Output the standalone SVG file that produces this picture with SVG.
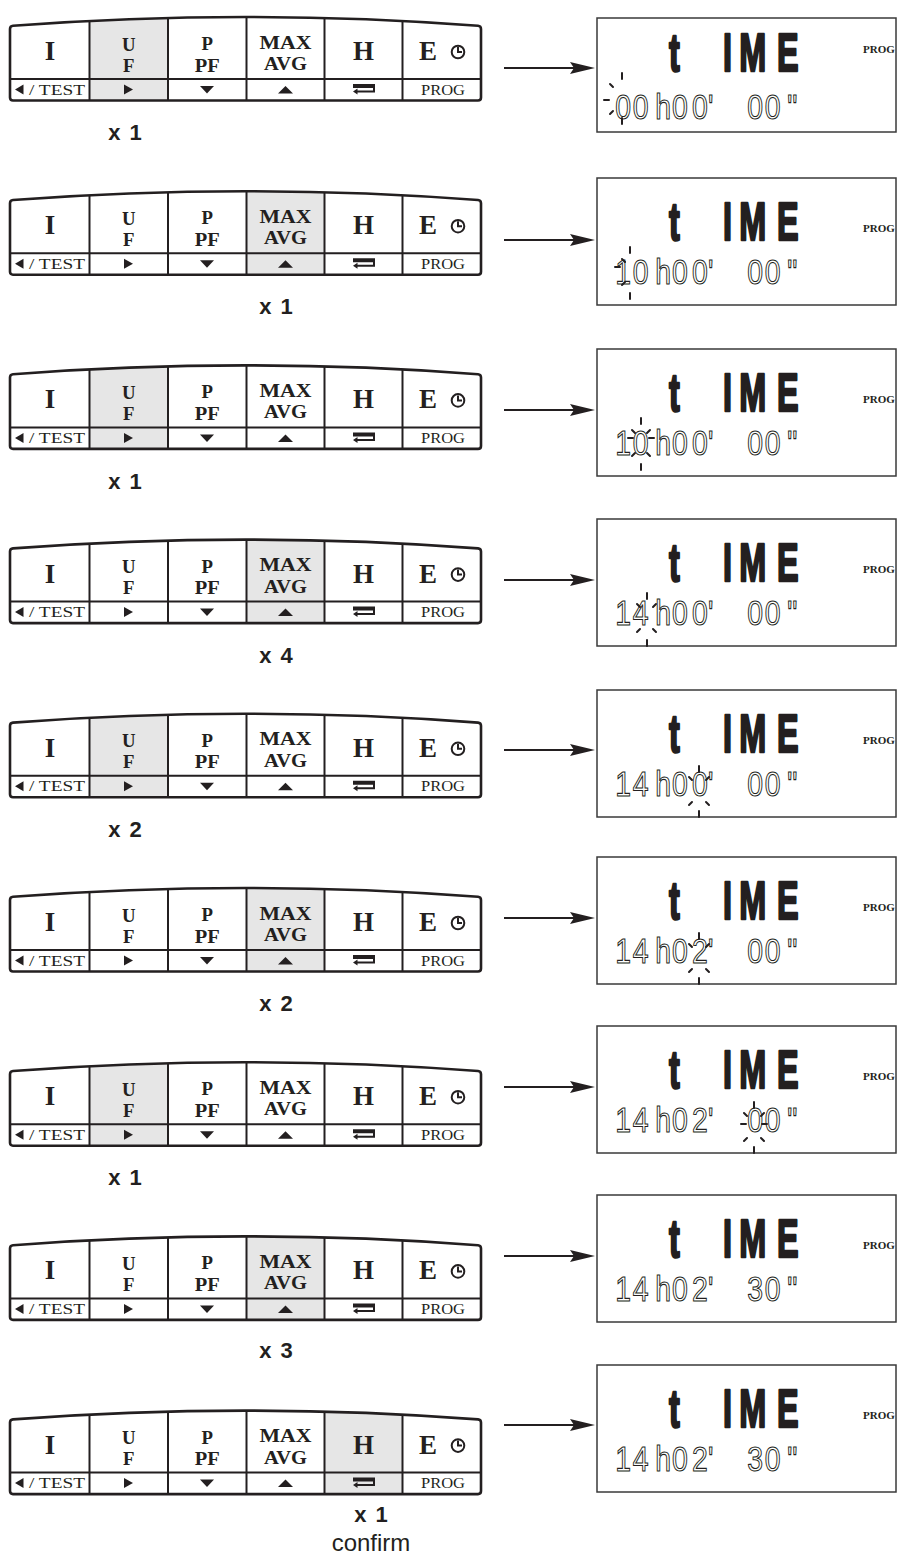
<svg xmlns="http://www.w3.org/2000/svg" xmlns:xlink="http://www.w3.org/1999/xlink" width="899" height="1557" viewBox="0 0 899 1557">
<style>
.bg{fill:#fff}
.kf{fill:#fff}
.ko{fill:none;stroke:#231f20;stroke-width:2.6}
.kd{fill:none;stroke:#231f20;stroke-width:2}
.sh{fill:#e6e6e6}
.kt{font-family:"Liberation Serif","Times New Roman",serif;font-weight:bold;fill:#231f20;text-anchor:middle}
.big{font-size:27px}
.mid{font-size:18.8px}
.sm{font-family:"Liberation Serif","Times New Roman",serif;font-size:14px;fill:#231f20}
.tri{fill:#231f20}
.clk{fill:none;stroke:#231f20;stroke-width:2}
.lbl{font-family:"Liberation Sans",Arial,sans-serif;font-weight:bold;font-size:22px;fill:#231f20;text-anchor:middle;word-spacing:3px}
.cf{font-family:"Liberation Sans",Arial,sans-serif;font-size:24px;fill:#231f20;text-anchor:middle}
.conn{stroke:#231f20;stroke-width:2;fill:none}
.lcd{fill:#fff;stroke:#3a3a3a;stroke-width:1.5}
.lb{font-family:"Liberation Sans",Arial,sans-serif;font-weight:bold;font-size:54px;fill:#231f20;stroke:#231f20;stroke-width:2.5;stroke-linejoin:round}
.ls{font-family:"Liberation Sans",Arial,sans-serif;font-size:35.5px;fill:#fff;stroke:#231f20;stroke-width:1.1}
.pg{font-family:"Liberation Serif","Times New Roman",serif;font-weight:bold;font-size:11px;fill:#231f20}
.bm{stroke:#231f20;stroke-width:2;stroke-linecap:round}
</style>
<defs>
<path id="kpo" d="M13,100.5 Q10,100.5 10,97.5 V29 Q10,26 13,25.8 Q245.5,8.2 478,25.8 Q481,26 481,29 V97.5 Q481,100.5 478,100.5 Z"/>
<clipPath id="kc"><use xlink:href="#kpo"/></clipPath>
<marker id="ah" viewBox="0 0 25 12" refX="4" refY="6" markerWidth="25" markerHeight="12" markerUnits="userSpaceOnUse" orient="auto"><path d="M0,0 L25,6 L0,12 L4,6 Z" fill="#231f20"/></marker>
<path id="dv" d="M89.5,0V101M168,0V101M246.5,0V101M324.5,0V101M402.5,0V101M10,79H481"/>
</defs>
<rect class="bg" x="0" y="0" width="899" height="1557"/>

<g id="keypad-1">
<use xlink:href="#kpo" class="kf"/>
<rect class="sh" x="89.5" y="0" width="78.5" height="101" clip-path="url(#kc)"/>
<use xlink:href="#dv" class="kd" clip-path="url(#kc)"/>
<use xlink:href="#kpo" class="ko"/>
<text class="kt big" x="50" y="60">I</text>
<text class="kt mid" x="128.75" y="50.5">U</text><text class="kt mid" x="128.75" y="71.5">F</text>
<text class="kt mid" x="207.25" y="50">P</text><text class="kt mid" x="207.25" y="71.5" textLength="25" lengthAdjust="spacingAndGlyphs">PF</text>
<text class="kt mid" x="285.5" y="48.5" textLength="52" lengthAdjust="spacingAndGlyphs">MAX</text><text class="kt mid" x="285.5" y="70" textLength="43" lengthAdjust="spacingAndGlyphs">AVG</text>
<text class="kt big" x="363.5" y="60">H</text>
<text class="kt big" x="428" y="60">E</text>
<circle class="clk" cx="458" cy="52" r="6.3"/><path class="clk" d="M458,47V52H462" stroke-width="1.6"/>
<polygon class="tri" points="15,89.5 23.5,84.5 23.5,94.5"/>
<text class="sm" x="29" y="94.5" textLength="56" lengthAdjust="spacingAndGlyphs">/ TEST</text>
<polygon class="tri" points="124,84.5 133,89.5 124,94.5"/>
<polygon class="tri" points="200,86 214,86 207,93.5"/>
<polygon class="tri" points="278,93.5 293,93.5 285.5,86"/>
<path class="tri" d="M353,84H375V92.5H357.5V94.5L353,91.5L357.5,88.5V90.5H373V88H353Z"/>
<text class="sm" x="421" y="94.5" textLength="44" lengthAdjust="spacingAndGlyphs">PROG</text>
</g>

<g id="keypad-2" transform="translate(0,174.2)">
<use xlink:href="#kpo" class="kf"/>
<rect class="sh" x="246.5" y="0" width="78" height="101" clip-path="url(#kc)"/>
<use xlink:href="#dv" class="kd" clip-path="url(#kc)"/>
<use xlink:href="#kpo" class="ko"/>
<text class="kt big" x="50" y="60">I</text>
<text class="kt mid" x="128.75" y="50.5">U</text><text class="kt mid" x="128.75" y="71.5">F</text>
<text class="kt mid" x="207.25" y="50">P</text><text class="kt mid" x="207.25" y="71.5" textLength="25" lengthAdjust="spacingAndGlyphs">PF</text>
<text class="kt mid" x="285.5" y="48.5" textLength="52" lengthAdjust="spacingAndGlyphs">MAX</text><text class="kt mid" x="285.5" y="70" textLength="43" lengthAdjust="spacingAndGlyphs">AVG</text>
<text class="kt big" x="363.5" y="60">H</text>
<text class="kt big" x="428" y="60">E</text>
<circle class="clk" cx="458" cy="52" r="6.3"/><path class="clk" d="M458,47V52H462" stroke-width="1.6"/>
<polygon class="tri" points="15,89.5 23.5,84.5 23.5,94.5"/>
<text class="sm" x="29" y="94.5" textLength="56" lengthAdjust="spacingAndGlyphs">/ TEST</text>
<polygon class="tri" points="124,84.5 133,89.5 124,94.5"/>
<polygon class="tri" points="200,86 214,86 207,93.5"/>
<polygon class="tri" points="278,93.5 293,93.5 285.5,86"/>
<path class="tri" d="M353,84H375V92.5H357.5V94.5L353,91.5L357.5,88.5V90.5H373V88H353Z"/>
<text class="sm" x="421" y="94.5" textLength="44" lengthAdjust="spacingAndGlyphs">PROG</text>
</g>

<g id="keypad-3" transform="translate(0,348.4)">
<use xlink:href="#kpo" class="kf"/>
<rect class="sh" x="89.5" y="0" width="78.5" height="101" clip-path="url(#kc)"/>
<use xlink:href="#dv" class="kd" clip-path="url(#kc)"/>
<use xlink:href="#kpo" class="ko"/>
<text class="kt big" x="50" y="60">I</text>
<text class="kt mid" x="128.75" y="50.5">U</text><text class="kt mid" x="128.75" y="71.5">F</text>
<text class="kt mid" x="207.25" y="50">P</text><text class="kt mid" x="207.25" y="71.5" textLength="25" lengthAdjust="spacingAndGlyphs">PF</text>
<text class="kt mid" x="285.5" y="48.5" textLength="52" lengthAdjust="spacingAndGlyphs">MAX</text><text class="kt mid" x="285.5" y="70" textLength="43" lengthAdjust="spacingAndGlyphs">AVG</text>
<text class="kt big" x="363.5" y="60">H</text>
<text class="kt big" x="428" y="60">E</text>
<circle class="clk" cx="458" cy="52" r="6.3"/><path class="clk" d="M458,47V52H462" stroke-width="1.6"/>
<polygon class="tri" points="15,89.5 23.5,84.5 23.5,94.5"/>
<text class="sm" x="29" y="94.5" textLength="56" lengthAdjust="spacingAndGlyphs">/ TEST</text>
<polygon class="tri" points="124,84.5 133,89.5 124,94.5"/>
<polygon class="tri" points="200,86 214,86 207,93.5"/>
<polygon class="tri" points="278,93.5 293,93.5 285.5,86"/>
<path class="tri" d="M353,84H375V92.5H357.5V94.5L353,91.5L357.5,88.5V90.5H373V88H353Z"/>
<text class="sm" x="421" y="94.5" textLength="44" lengthAdjust="spacingAndGlyphs">PROG</text>
</g>

<g id="keypad-4" transform="translate(0,522.6)">
<use xlink:href="#kpo" class="kf"/>
<rect class="sh" x="246.5" y="0" width="78" height="101" clip-path="url(#kc)"/>
<use xlink:href="#dv" class="kd" clip-path="url(#kc)"/>
<use xlink:href="#kpo" class="ko"/>
<text class="kt big" x="50" y="60">I</text>
<text class="kt mid" x="128.75" y="50.5">U</text><text class="kt mid" x="128.75" y="71.5">F</text>
<text class="kt mid" x="207.25" y="50">P</text><text class="kt mid" x="207.25" y="71.5" textLength="25" lengthAdjust="spacingAndGlyphs">PF</text>
<text class="kt mid" x="285.5" y="48.5" textLength="52" lengthAdjust="spacingAndGlyphs">MAX</text><text class="kt mid" x="285.5" y="70" textLength="43" lengthAdjust="spacingAndGlyphs">AVG</text>
<text class="kt big" x="363.5" y="60">H</text>
<text class="kt big" x="428" y="60">E</text>
<circle class="clk" cx="458" cy="52" r="6.3"/><path class="clk" d="M458,47V52H462" stroke-width="1.6"/>
<polygon class="tri" points="15,89.5 23.5,84.5 23.5,94.5"/>
<text class="sm" x="29" y="94.5" textLength="56" lengthAdjust="spacingAndGlyphs">/ TEST</text>
<polygon class="tri" points="124,84.5 133,89.5 124,94.5"/>
<polygon class="tri" points="200,86 214,86 207,93.5"/>
<polygon class="tri" points="278,93.5 293,93.5 285.5,86"/>
<path class="tri" d="M353,84H375V92.5H357.5V94.5L353,91.5L357.5,88.5V90.5H373V88H353Z"/>
<text class="sm" x="421" y="94.5" textLength="44" lengthAdjust="spacingAndGlyphs">PROG</text>
</g>

<g id="keypad-5" transform="translate(0,696.8)">
<use xlink:href="#kpo" class="kf"/>
<rect class="sh" x="89.5" y="0" width="78.5" height="101" clip-path="url(#kc)"/>
<use xlink:href="#dv" class="kd" clip-path="url(#kc)"/>
<use xlink:href="#kpo" class="ko"/>
<text class="kt big" x="50" y="60">I</text>
<text class="kt mid" x="128.75" y="50.5">U</text><text class="kt mid" x="128.75" y="71.5">F</text>
<text class="kt mid" x="207.25" y="50">P</text><text class="kt mid" x="207.25" y="71.5" textLength="25" lengthAdjust="spacingAndGlyphs">PF</text>
<text class="kt mid" x="285.5" y="48.5" textLength="52" lengthAdjust="spacingAndGlyphs">MAX</text><text class="kt mid" x="285.5" y="70" textLength="43" lengthAdjust="spacingAndGlyphs">AVG</text>
<text class="kt big" x="363.5" y="60">H</text>
<text class="kt big" x="428" y="60">E</text>
<circle class="clk" cx="458" cy="52" r="6.3"/><path class="clk" d="M458,47V52H462" stroke-width="1.6"/>
<polygon class="tri" points="15,89.5 23.5,84.5 23.5,94.5"/>
<text class="sm" x="29" y="94.5" textLength="56" lengthAdjust="spacingAndGlyphs">/ TEST</text>
<polygon class="tri" points="124,84.5 133,89.5 124,94.5"/>
<polygon class="tri" points="200,86 214,86 207,93.5"/>
<polygon class="tri" points="278,93.5 293,93.5 285.5,86"/>
<path class="tri" d="M353,84H375V92.5H357.5V94.5L353,91.5L357.5,88.5V90.5H373V88H353Z"/>
<text class="sm" x="421" y="94.5" textLength="44" lengthAdjust="spacingAndGlyphs">PROG</text>
</g>

<g id="keypad-6" transform="translate(0,871)">
<use xlink:href="#kpo" class="kf"/>
<rect class="sh" x="246.5" y="0" width="78" height="101" clip-path="url(#kc)"/>
<use xlink:href="#dv" class="kd" clip-path="url(#kc)"/>
<use xlink:href="#kpo" class="ko"/>
<text class="kt big" x="50" y="60">I</text>
<text class="kt mid" x="128.75" y="50.5">U</text><text class="kt mid" x="128.75" y="71.5">F</text>
<text class="kt mid" x="207.25" y="50">P</text><text class="kt mid" x="207.25" y="71.5" textLength="25" lengthAdjust="spacingAndGlyphs">PF</text>
<text class="kt mid" x="285.5" y="48.5" textLength="52" lengthAdjust="spacingAndGlyphs">MAX</text><text class="kt mid" x="285.5" y="70" textLength="43" lengthAdjust="spacingAndGlyphs">AVG</text>
<text class="kt big" x="363.5" y="60">H</text>
<text class="kt big" x="428" y="60">E</text>
<circle class="clk" cx="458" cy="52" r="6.3"/><path class="clk" d="M458,47V52H462" stroke-width="1.6"/>
<polygon class="tri" points="15,89.5 23.5,84.5 23.5,94.5"/>
<text class="sm" x="29" y="94.5" textLength="56" lengthAdjust="spacingAndGlyphs">/ TEST</text>
<polygon class="tri" points="124,84.5 133,89.5 124,94.5"/>
<polygon class="tri" points="200,86 214,86 207,93.5"/>
<polygon class="tri" points="278,93.5 293,93.5 285.5,86"/>
<path class="tri" d="M353,84H375V92.5H357.5V94.5L353,91.5L357.5,88.5V90.5H373V88H353Z"/>
<text class="sm" x="421" y="94.5" textLength="44" lengthAdjust="spacingAndGlyphs">PROG</text>
</g>

<g id="keypad-7" transform="translate(0,1045.2)">
<use xlink:href="#kpo" class="kf"/>
<rect class="sh" x="89.5" y="0" width="78.5" height="101" clip-path="url(#kc)"/>
<use xlink:href="#dv" class="kd" clip-path="url(#kc)"/>
<use xlink:href="#kpo" class="ko"/>
<text class="kt big" x="50" y="60">I</text>
<text class="kt mid" x="128.75" y="50.5">U</text><text class="kt mid" x="128.75" y="71.5">F</text>
<text class="kt mid" x="207.25" y="50">P</text><text class="kt mid" x="207.25" y="71.5" textLength="25" lengthAdjust="spacingAndGlyphs">PF</text>
<text class="kt mid" x="285.5" y="48.5" textLength="52" lengthAdjust="spacingAndGlyphs">MAX</text><text class="kt mid" x="285.5" y="70" textLength="43" lengthAdjust="spacingAndGlyphs">AVG</text>
<text class="kt big" x="363.5" y="60">H</text>
<text class="kt big" x="428" y="60">E</text>
<circle class="clk" cx="458" cy="52" r="6.3"/><path class="clk" d="M458,47V52H462" stroke-width="1.6"/>
<polygon class="tri" points="15,89.5 23.5,84.5 23.5,94.5"/>
<text class="sm" x="29" y="94.5" textLength="56" lengthAdjust="spacingAndGlyphs">/ TEST</text>
<polygon class="tri" points="124,84.5 133,89.5 124,94.5"/>
<polygon class="tri" points="200,86 214,86 207,93.5"/>
<polygon class="tri" points="278,93.5 293,93.5 285.5,86"/>
<path class="tri" d="M353,84H375V92.5H357.5V94.5L353,91.5L357.5,88.5V90.5H373V88H353Z"/>
<text class="sm" x="421" y="94.5" textLength="44" lengthAdjust="spacingAndGlyphs">PROG</text>
</g>

<g id="keypad-8" transform="translate(0,1219.4)">
<use xlink:href="#kpo" class="kf"/>
<rect class="sh" x="246.5" y="0" width="78" height="101" clip-path="url(#kc)"/>
<use xlink:href="#dv" class="kd" clip-path="url(#kc)"/>
<use xlink:href="#kpo" class="ko"/>
<text class="kt big" x="50" y="60">I</text>
<text class="kt mid" x="128.75" y="50.5">U</text><text class="kt mid" x="128.75" y="71.5">F</text>
<text class="kt mid" x="207.25" y="50">P</text><text class="kt mid" x="207.25" y="71.5" textLength="25" lengthAdjust="spacingAndGlyphs">PF</text>
<text class="kt mid" x="285.5" y="48.5" textLength="52" lengthAdjust="spacingAndGlyphs">MAX</text><text class="kt mid" x="285.5" y="70" textLength="43" lengthAdjust="spacingAndGlyphs">AVG</text>
<text class="kt big" x="363.5" y="60">H</text>
<text class="kt big" x="428" y="60">E</text>
<circle class="clk" cx="458" cy="52" r="6.3"/><path class="clk" d="M458,47V52H462" stroke-width="1.6"/>
<polygon class="tri" points="15,89.5 23.5,84.5 23.5,94.5"/>
<text class="sm" x="29" y="94.5" textLength="56" lengthAdjust="spacingAndGlyphs">/ TEST</text>
<polygon class="tri" points="124,84.5 133,89.5 124,94.5"/>
<polygon class="tri" points="200,86 214,86 207,93.5"/>
<polygon class="tri" points="278,93.5 293,93.5 285.5,86"/>
<path class="tri" d="M353,84H375V92.5H357.5V94.5L353,91.5L357.5,88.5V90.5H373V88H353Z"/>
<text class="sm" x="421" y="94.5" textLength="44" lengthAdjust="spacingAndGlyphs">PROG</text>
</g>

<g id="keypad-9" transform="translate(0,1393.6)">
<use xlink:href="#kpo" class="kf"/>
<rect class="sh" x="324.5" y="0" width="78" height="101" clip-path="url(#kc)"/>
<use xlink:href="#dv" class="kd" clip-path="url(#kc)"/>
<use xlink:href="#kpo" class="ko"/>
<text class="kt big" x="50" y="60">I</text>
<text class="kt mid" x="128.75" y="50.5">U</text><text class="kt mid" x="128.75" y="71.5">F</text>
<text class="kt mid" x="207.25" y="50">P</text><text class="kt mid" x="207.25" y="71.5" textLength="25" lengthAdjust="spacingAndGlyphs">PF</text>
<text class="kt mid" x="285.5" y="48.5" textLength="52" lengthAdjust="spacingAndGlyphs">MAX</text><text class="kt mid" x="285.5" y="70" textLength="43" lengthAdjust="spacingAndGlyphs">AVG</text>
<text class="kt big" x="363.5" y="60">H</text>
<text class="kt big" x="428" y="60">E</text>
<circle class="clk" cx="458" cy="52" r="6.3"/><path class="clk" d="M458,47V52H462" stroke-width="1.6"/>
<polygon class="tri" points="15,89.5 23.5,84.5 23.5,94.5"/>
<text class="sm" x="29" y="94.5" textLength="56" lengthAdjust="spacingAndGlyphs">/ TEST</text>
<polygon class="tri" points="124,84.5 133,89.5 124,94.5"/>
<polygon class="tri" points="200,86 214,86 207,93.5"/>
<polygon class="tri" points="278,93.5 293,93.5 285.5,86"/>
<path class="tri" d="M353,84H375V92.5H357.5V94.5L353,91.5L357.5,88.5V90.5H373V88H353Z"/>
<text class="sm" x="421" y="94.5" textLength="44" lengthAdjust="spacingAndGlyphs">PROG</text>
</g>

<g id="labels">
<text class="lbl" x="125" y="140">x 1</text>
<text class="lbl" x="276" y="314">x 1</text>
<text class="lbl" x="125" y="488.5">x 1</text>
<text class="lbl" x="276" y="662.5">x 4</text>
<text class="lbl" x="125" y="837">x 2</text>
<text class="lbl" x="276" y="1011">x 2</text>
<text class="lbl" x="125" y="1185">x 1</text>
<text class="lbl" x="276" y="1358">x 3</text>
<text class="lbl" x="371" y="1522">x 1</text>
<text class="cf" x="371" y="1551">confirm</text>
</g>

<g id="connectors">
<line class="conn" x1="504" y1="68" x2="574" y2="68" marker-end="url(#ah)"/>
<line class="conn" x1="504" y1="240" x2="574" y2="240" marker-end="url(#ah)"/>
<line class="conn" x1="504" y1="410" x2="574" y2="410" marker-end="url(#ah)"/>
<line class="conn" x1="504" y1="580" x2="574" y2="580" marker-end="url(#ah)"/>
<line class="conn" x1="504" y1="750" x2="574" y2="750" marker-end="url(#ah)"/>
<line class="conn" x1="504" y1="918" x2="574" y2="918" marker-end="url(#ah)"/>
<line class="conn" x1="504" y1="1087" x2="574" y2="1087" marker-end="url(#ah)"/>
<line class="conn" x1="504" y1="1256" x2="574" y2="1256" marker-end="url(#ah)"/>
<line class="conn" x1="504" y1="1425" x2="574" y2="1425" marker-end="url(#ah)"/>
</g>

<g id="lcd-1">
<rect class="lcd" x="597" y="18" width="299" height="114"/>
<text class="lb" transform="scale(0.6,1)" y="71"><tspan x="1115">t</tspan><tspan x="1205">I</tspan><tspan x="1232">M</tspan><tspan x="1295">E</tspan></text>
<text class="pg" x="863" y="53">PROG</text>
<text class="ls" transform="scale(0.8,1)" y="119" x="769 791 819 840 865 885 913 934 956 984">00h00' 00"</text>
<path class="bm" d="M622,73V79M622,118V124M604,100H609M610,84L613,87M610,114L613,111"/>
</g>

<g id="lcd-2">
<rect class="lcd" x="597" y="178" width="299" height="127"/>
<text class="lb" transform="scale(0.6,1)" y="240"><tspan x="1115">t</tspan><tspan x="1205">I</tspan><tspan x="1232">M</tspan><tspan x="1295">E</tspan></text>
<text class="pg" x="863" y="232">PROG</text>
<text class="ls" transform="scale(0.8,1)" y="284" x="769 791 819 840 865 885 913 934 956 984">10h00' 00"</text>
<path class="bm" d="M630,247V253M630,293V299M615,267H620M622,259L625,262M622,285L625,282"/>
</g>

<g id="lcd-3">
<rect class="lcd" x="597" y="349" width="299" height="127"/>
<text class="lb" transform="scale(0.6,1)" y="411"><tspan x="1115">t</tspan><tspan x="1205">I</tspan><tspan x="1232">M</tspan><tspan x="1295">E</tspan></text>
<text class="pg" x="863" y="403">PROG</text>
<text class="ls" transform="scale(0.8,1)" y="455" x="769 791 819 840 865 885 913 934 956 984">10h00' 00"</text>
<path class="bm" d="M641,418V424M641,464V470M628,438H633M649,438H654M632,430L635,433M650,430L647,433M632,456L635,453M650,456L647,453"/>
</g>

<g id="lcd-4">
<rect class="lcd" x="597" y="519" width="299" height="127"/>
<text class="lb" transform="scale(0.6,1)" y="581"><tspan x="1115">t</tspan><tspan x="1205">I</tspan><tspan x="1232">M</tspan><tspan x="1295">E</tspan></text>
<text class="pg" x="863" y="573">PROG</text>
<text class="ls" transform="scale(0.8,1)" y="625" x="769 791 819 840 865 885 913 934 956 984">14h00' 00"</text>
<path class="bm" d="M647,593V599M647,640V646M637,604L640,607M656,604L653,607M637,632L640,629M656,632L653,629"/>
</g>

<g id="lcd-5">
<rect class="lcd" x="597" y="690" width="299" height="127"/>
<text class="lb" transform="scale(0.6,1)" y="752"><tspan x="1115">t</tspan><tspan x="1205">I</tspan><tspan x="1232">M</tspan><tspan x="1295">E</tspan></text>
<text class="pg" x="863" y="744">PROG</text>
<text class="ls" transform="scale(0.8,1)" y="796" x="769 791 819 840 865 885 913 934 956 984">14h00' 00"</text>
<path class="bm" d="M699,766V772M699,811V817M689,777L692,780M709,777L706,780M689,805L692,802M709,805L706,802"/>
</g>

<g id="lcd-6">
<rect class="lcd" x="597" y="857" width="299" height="127"/>
<text class="lb" transform="scale(0.6,1)" y="919"><tspan x="1115">t</tspan><tspan x="1205">I</tspan><tspan x="1232">M</tspan><tspan x="1295">E</tspan></text>
<text class="pg" x="863" y="911">PROG</text>
<text class="ls" transform="scale(0.8,1)" y="963" x="769 791 819 840 865 885 913 934 956 984">14h02' 00"</text>
<path class="bm" d="M699,933V939M699,978V984M689,944L692,947M709,944L706,947M689,972L692,969M709,972L706,969"/>
</g>

<g id="lcd-7">
<rect class="lcd" x="597" y="1026" width="299" height="127"/>
<text class="lb" transform="scale(0.6,1)" y="1088"><tspan x="1115">t</tspan><tspan x="1205">I</tspan><tspan x="1232">M</tspan><tspan x="1295">E</tspan></text>
<text class="pg" x="863" y="1080">PROG</text>
<text class="ls" transform="scale(0.8,1)" y="1132" x="769 791 819 840 865 885 913 934 956 984">14h02' 00"</text>
<path class="bm" d="M754,1102V1108M754,1147V1153M741,1124H746M762,1124H767M744,1113L747,1116M764,1113L761,1116M744,1141L747,1138M764,1141L761,1138"/>
</g>

<g id="lcd-8">
<rect class="lcd" x="597" y="1195" width="299" height="127"/>
<text class="lb" transform="scale(0.6,1)" y="1257"><tspan x="1115">t</tspan><tspan x="1205">I</tspan><tspan x="1232">M</tspan><tspan x="1295">E</tspan></text>
<text class="pg" x="863" y="1249">PROG</text>
<text class="ls" transform="scale(0.8,1)" y="1301" x="769 791 819 840 865 885 913 934 956 984">14h02' 30"</text>
</g>

<g id="lcd-9">
<rect class="lcd" x="597" y="1365" width="299" height="127"/>
<text class="lb" transform="scale(0.6,1)" y="1427"><tspan x="1115">t</tspan><tspan x="1205">I</tspan><tspan x="1232">M</tspan><tspan x="1295">E</tspan></text>
<text class="pg" x="863" y="1419">PROG</text>
<text class="ls" transform="scale(0.8,1)" y="1471" x="769 791 819 840 865 885 913 934 956 984">14h02' 30"</text>
</g>
</svg>
